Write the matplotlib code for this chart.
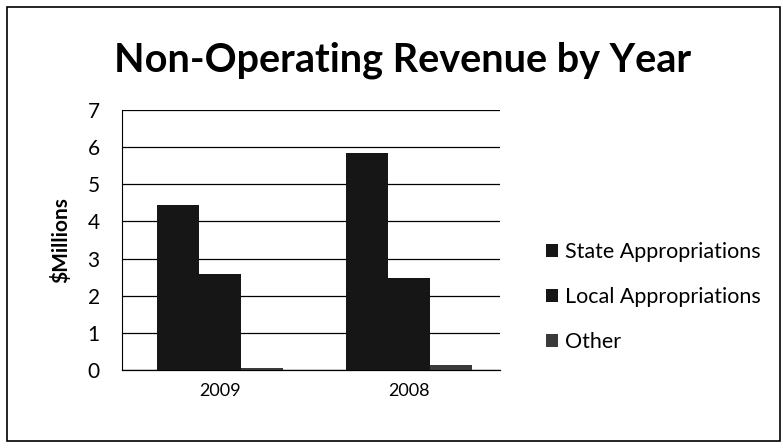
import numpy as np
import matplotlib.pyplot as plt
from matplotlib.patches import Rectangle

years = ['2009', '2008']
state = [4.45, 5.85]
local = [2.58, 2.48]
other = [0.05, 0.13]
series = ['State Appropriations', 'Local Appropriations', 'Other']
colors = ['#161616', '#161616', '#3a3a3a']

plt.rcParams['font.family'] = ['Lato', 'DejaVu Sans']

fig = plt.figure(figsize=(7.82, 4.46), dpi=100)
fig.patches.append(Rectangle((0.009, 0.012), 0.988, 0.972, transform=fig.transFigure,
                             fill=False, edgecolor='black', linewidth=1.2))
ax = fig.add_axes([122 / 782, 1 - 370 / 446, 378 / 782, 260 / 446])

x = np.arange(len(years))
w = 0.222
for i, (vals, name) in enumerate(zip([state, local, other], series)):
    ax.bar(x + (i - 1) * w, vals, w, color=colors[i], label=name, zorder=3)

ax.set_xlim(-0.52, 1.48)
ax.set_ylim(0, 7)
ax.set_yticks(range(8))
ax.set_xticks(x)
ax.set_xticklabels(years, fontsize=13)
ax.tick_params(axis='y', labelsize=15, length=0, pad=16)
ax.tick_params(axis='x', length=0, pad=9)
ax.grid(axis='y', color='black', linewidth=0.9, zorder=0)
for s in ['top', 'right']:
    ax.spines[s].set_visible(False)
ax.spines['left'].set_linewidth(0.8)
ax.spines['bottom'].set_linewidth(0.9)
ax.set_ylabel('$Millions', fontsize=15, fontweight='bold', labelpad=12)

fig.text(0.515, 0.865, 'Non-Operating Revenue by Year', ha='center', va='center',
         fontsize=28.5, fontweight='bold')

ax.legend(loc='center left', bbox_to_anchor=(1.07, 0.28), frameon=False,
          fontsize=15.5, handlelength=0.55, handleheight=0.55, handletextpad=0.35,
          labelspacing=1.15)

fig.savefig('out.png', dpi=100)
